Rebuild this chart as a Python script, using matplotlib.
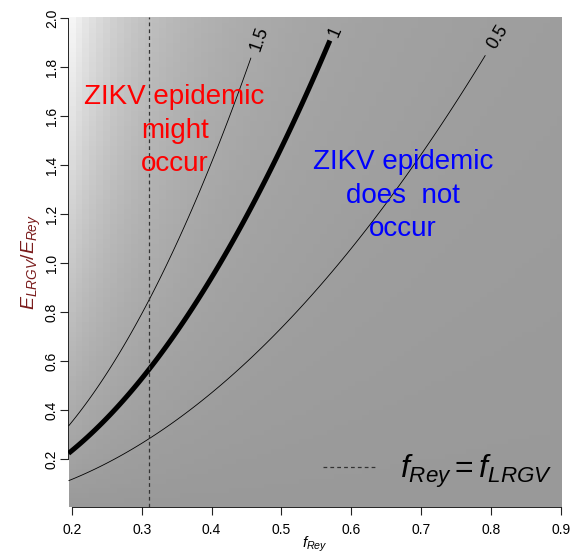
import numpy as np
import matplotlib

matplotlib.use("Agg")
import matplotlib.pyplot as plt
from matplotlib.colors import LinearSegmentedColormap

plt.rcParams["font.family"] = ["Liberation Sans", "DejaVu Sans"]
plt.rcParams["mathtext.fontset"] = "custom"
plt.rcParams["mathtext.rm"] = "Liberation Sans"
plt.rcParams["mathtext.it"] = "Liberation Sans:italic"
plt.rcParams["mathtext.sf"] = "Liberation Sans"

# threshold curve (R = 1): E_LRGV/E_Rey at given f_Rey
f_rey_pts = [0.20, 0.25, 0.31, 0.40, 0.50, 0.57]
e_ratio_r1 = [0.235, 0.37, 0.56, 0.94, 1.47, 1.92]
contour_levels = [0.5, 1.0, 1.5]
contour_labels = ["0.5", "1", "1.5"]
contour_widths = [0.6, 3.6, 0.6]
contour_ends = [1.85, 1.91, 1.84]      # lines stop below their labels
label_pos = [(0.81, 1.925), (0.577, 1.945), (0.469, 1.915)]
f_equal = 0.31

# power-law fit of the threshold, R = ratio / threshold(f)
slope, icpt = np.polyfit(np.log(f_rey_pts), np.log(e_ratio_r1), 1)


def r_value(f, e):
    return e / np.exp(icpt + slope * np.log(f))


fig = plt.figure(figsize=(5.7, 5.53), dpi=100)
ax = fig.add_axes([0.119, 0.083, 0.867, 0.886])

# coarse image like R's image()
xe = np.arange(0.195, 0.9051, 0.01)
ye = np.arange(0.0, 2.0201, 0.02)
xc = (xe[:-1] + xe[1:]) / 2
yc = (ye[:-1] + ye[1:]) / 2
Xc, Yc = np.meshgrid(xc, yc)
Rc = r_value(Xc, Yc)
cmap = LinearSegmentedColormap.from_list("greys", ["#999999", "#f6f6f6"])
ax.pcolormesh(xe, ye, Rc, cmap=cmap, vmin=0, vmax=Rc.max(), shading="flat")

# smooth contours, each cut where its label sits
xf = np.linspace(0.195, 0.905, 300)
yf = np.linspace(0.0, 2.004, 400)
Xf, Yf = np.meshgrid(xf, yf)
Rf = r_value(Xf, Yf)
ax_w = 0.867 * 570 / (0.902 - 0.194)
ax_h = 0.886 * 553 / 2.0
for lev, txt, lw, y_end, (lx, ly) in zip(contour_levels, contour_labels,
                                          contour_widths, contour_ends, label_pos):
    ax.contour(Xf, Yf, np.ma.masked_where(Yf > y_end, Rf), levels=[lev],
               colors="black", linewidths=lw)
    # rotate label along the curve
    dydx = slope * ly / lx
    ang = np.degrees(np.arctan2(dydx * ax_h, ax_w))
    ax.text(lx, ly, txt, fontsize=13, rotation=ang, rotation_mode="anchor",
            ha="center", va="center")

ax.axvline(f_equal, color="#333333", linewidth=0.9, linestyle=(0, (3, 2.5)),
           label=r"$f_{Rey}=f_{LRGV}$")

ax.text(0.347, 1.54, "ZIKV epidemic\nmight\noccur", color="red", fontsize=20,
        ha="center", va="center", multialignment="center", linespacing=1.38)
ax.text(0.674, 1.275, "ZIKV epidemic\ndoes  not\noccur", color="#0000ff", fontsize=20,
        ha="center", va="center", multialignment="center", linespacing=1.38)

ax.legend(loc="center right", bbox_to_anchor=(1.006, 0.072), frameon=False,
          fontsize=23, handlelength=1.65, handletextpad=0.75, borderaxespad=0)

ax.set_xlim(0.194, 0.902)
ax.set_ylim(0.004, 2.004)
ax.set_xticks(np.arange(0.2, 0.91, 0.1))
ax.set_yticks(np.arange(0.2, 2.01, 0.2))
ax.set_xticklabels([f"{v:.1f}" for v in np.arange(0.2, 0.91, 0.1)])
ax.set_yticklabels([f"{v:.1f}" for v in np.arange(0.2, 2.01, 0.2)],
                   rotation=90, va="center")
ax.tick_params(direction="out", length=5.5, width=0.8, labelsize=10, color="#222222")
ax.tick_params(axis="y", pad=1)
ax.tick_params(axis="x", pad=6)
for side in ("top", "right"):
    ax.spines[side].set_visible(False)
ax.spines["bottom"].set_bounds(0.2, 0.9)
ax.spines["left"].set_bounds(0.2, 2.0)
ax.spines["bottom"].set_linewidth(0.6)
ax.spines["left"].set_linewidth(0.6)

ax.set_xlabel(r"$f_{Rey}$", fontsize=11, labelpad=-2)
ax.set_ylabel(r"$E_{LRGV}/E_{Rey}$", fontsize=14, color="#7a1c1c", labelpad=1)

fig.savefig("out.png", dpi=100)
